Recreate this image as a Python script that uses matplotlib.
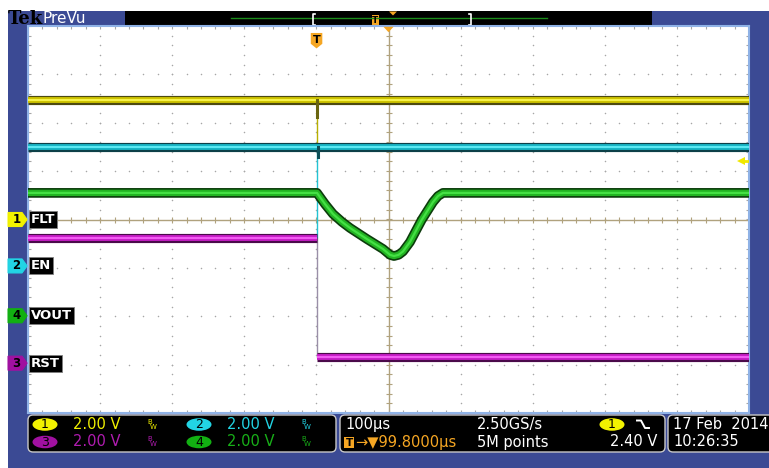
## Captura de osciloscopio Tek (modo PreVu) redibujada con matplotlib.

import numpy as np
import matplotlib.pyplot as plt
import matplotlib.patheffects as pe
from matplotlib.patches import Rectangle, FancyBboxPatch, Polygon, Ellipse

W, H = 769, 468

# escala de la pantalla
us_div = 100.0       # 100us/div
v_div = 2.0          # 2.00 V/div en los cuatro canales
trig_t = -99.8       # posicion del disparo (us)
trig_level = 2.40    # nivel de disparo, canal 1

# canales: nombre, numero y posicion de tierra (divisiones)
ch_names = ["FLT", "EN", "RST", "VOUT"]
ch_numbers = ["1", "2", "3", "4"]
ch_offsets = [0.0, -0.96, -2.97, -1.99]

# canal 1 FLT (V)
t_flt = [-500, 500]
v_flt = [4.92, 4.92]
flt_spike_t = [-98.6, -98.6]
flt_spike_v = [4.92, 4.24]
flt_glitch_t = [-98.6, -98.6]
flt_glitch_v = [4.92, 3.08]

# canal 2 EN
t_en = [-500, 500]
v_en = [4.92, 4.92]
en_spike_t = [-98.0, -98.0]
en_spike_v = [4.92, 4.50]
en_glitch_t = [-99.2, -99.2]
en_glitch_v = [4.92, 1.20]

# canal 3 RST
t_rst_hi = [-500, -99.8]
v_rst_hi = [5.17, 5.17]
t_rst_lo = [-99.8, 500]
v_rst_lo = [0.25, 0.25]

# canal 4 VOUT
t_vout = [-500, -99.2, -88.1, -77.0, -64.5, -53.4, -29.8, -7.6, 2.0, 7.6,
          14.0, 20.1, 29.8, 46.0, 61.7, 68.7, 75.6, 500]
v_vout = [5.08, 5.08, 4.62, 4.21, 3.88, 3.63, 3.17, 2.76, 2.52, 2.47,
          2.52, 2.66, 3.05, 3.96, 4.70, 4.95, 5.08, 5.08]

blue = '#3b4a94'
tan = '#b0a27e'
orange = '#f5a623'
ch_text = ['#f0f000', '#22d4e4', '#b01cb0', '#18b018']
ch_fill = ['#f2f200', '#22d4e4', '#a010a0', '#12b012']


def to_div(v, ch):
    return ch_offsets[ch] + np.asarray(v, dtype=float) / v_div


def trace(ax, t, y, core, center, edge, w):
    ln, = ax.plot(t, y, color=center, lw=w * 0.35, solid_capstyle='butt',
                  solid_joinstyle='round', zorder=5)
    ln.set_path_effects([pe.Stroke(linewidth=w + 2.4, foreground=edge),
                         pe.Stroke(linewidth=w, foreground=core),
                         pe.Normal()])


fig = plt.figure(figsize=(W / 100, H / 100), dpi=100)
fig.patch.set_facecolor('white')

# fondo: marco azul, barra superior, barra inferior
bg = fig.add_axes([0, 0, 1, 1], zorder=0)
bg.set_xlim(0, W)
bg.set_ylim(H, 0)
bg.axis('off')
bg.add_patch(Rectangle((8, 11), W - 8, H - 11, color=blue, lw=0))
bg.add_patch(Rectangle((125, 11), 527, 15, color='black', lw=0))
bg.plot([231, 547], [18.3, 18.3], color='#1a8c1a', lw=1)
for xb, d in [(313, 1), (471, -1)]:
    bg.plot([xb + 2 * d, xb, xb, xb + 2 * d], [13.5, 13.5, 24.5, 24.5], color='white', lw=1.2)
bg.add_patch(Rectangle((372, 15), 7, 11, color=orange, lw=0))
bg.text(375.5, 20.8, "T", color='black', fontsize=6.5, fontweight='bold', ha='center', va='center')
bg.add_patch(Polygon([(389, 11.5), (397, 11.5), (393, 15.5)], color=orange, lw=0))
bg.text(8, 19, "Tek", family='DejaVu Serif', fontweight='bold', fontsize=13,
        color='black', va='center', ha='left')
bg.text(42, 18.5, "PreVu", color='white', fontsize=11, va='center', ha='left')

# cajas de la barra inferior
for x0, wb in [(28, 308), (340, 325), (668, 120)]:
    bg.add_patch(FancyBboxPatch((x0, 415), wb, 37, boxstyle="round,pad=0,rounding_size=5",
                                facecolor='black', edgecolor='#c8c8c8', lw=1))
r1, r2 = 424.5, 442
fs = 10.5
for (xe, ye), num, c in [((45, r1), "1", 0), ((199, r1), "2", 1),
                         ((45, r2), "3", 2), ((199, r2), "4", 3)]:
    bg.add_patch(Ellipse((xe, ye), 25, 12.5, color=ch_fill[c], lw=0))
    bg.text(xe, ye + 0.5, num, color='black', fontsize=9, ha='center', va='center')
    xt = xe + 28
    bg.text(xt, ye, "2.00 V", color=ch_text[c], fontsize=fs, ha='left', va='center')
    bg.text(xt + 74, ye - 3, "B", color=ch_text[c], fontsize=5, ha='left', va='center')
    bg.text(xt + 77, ye + 2.5, "W", color=ch_text[c], fontsize=5, ha='left', va='center')

bg.text(345, r1, "100µs", color='white', fontsize=fs, ha='left', va='center')
bg.add_patch(Rectangle((344, 436.5), 10, 11.5, color=orange, lw=0))
bg.text(349, r2 + 0.5, "T", color='black', fontsize=7.5, fontweight='bold', ha='center', va='center')
bg.text(355, r2, "→▼99.8000µs", color=orange, fontsize=fs, ha='left', va='center')
bg.text(477, r1, "2.50GS/s", color='white', fontsize=fs, ha='left', va='center')
bg.text(477, r2, "5M points", color='white', fontsize=fs, ha='left', va='center')
bg.add_patch(Ellipse((612, r1), 25, 12.5, color=ch_fill[0], lw=0))
bg.text(612, r1 + 0.5, "1", color='black', fontsize=9, ha='center', va='center')
bg.plot([637, 641, 645, 649], [420.5, 420.5, 428, 428], color='white', lw=1.4)
bg.text(657, r2, "%.2f V" % trig_level, color='white', fontsize=fs, ha='right', va='center')
bg.text(673, r1, "17 Feb  2014", color='white', fontsize=fs, ha='left', va='center')
bg.text(673, r2, "10:26:35", color='white', fontsize=fs, ha='left', va='center')

# reticula
ax = fig.add_axes([28 / W, 1 - 413 / H, 721 / W, 387 / H], zorder=1)
ax.set_xlim(-5 * us_div, 5 * us_div)
ax.set_ylim(-4, 4)
ax.set_facecolor('white')
ax.set_xticks([])
ax.set_yticks([])
for s in ax.spines.values():
    s.set_color('#8fb2e6')
    s.set_linewidth(1.5)

minor_x = np.arange(-500, 501, 20)
minor_y = np.arange(-4, 4.01, 0.2)
dot = dict(ls='none', marker='o', ms=1.1, color='#a6a6a6', mew=0, zorder=1)
for xm in range(-400, 401, 100):
    if xm != 0:
        ax.plot(np.full_like(minor_y, xm), minor_y, **dot)
for ym in range(-3, 4):
    if ym != 0:
        ax.plot(minor_x, np.full_like(minor_x, ym, dtype=float), **dot)
ax.axhline(0, color=tan, lw=1, zorder=2)
ax.axvline(0, color=tan, lw=1, zorder=2)
ax.plot(minor_x, np.zeros_like(minor_x), ls='none', marker='|', ms=4, color=tan, mew=0.8, zorder=2)
ax.plot(np.zeros_like(minor_y), minor_y, ls='none', marker='_', ms=4, color=tan, mew=0.8, zorder=2)
for ye in (-4, 4):
    ax.plot(minor_x, np.full_like(minor_x, ye, dtype=float), ls='none', marker='|',
            ms=5, color='#a6a6a6', mew=0.8, zorder=2)
for xe in (-500, 500):
    ax.plot(np.full_like(minor_y, xe), minor_y, ls='none', marker='_',
            ms=5, color='#a6a6a6', mew=0.8, zorder=2)

# trazas finas del flanco
ax.plot(t_rst_hi[-1:] * 2, to_div([v_rst_hi[-1], v_rst_lo[0]], 2), color='#9a8fa8', lw=1, zorder=4)
ax.plot(en_glitch_t, to_div(en_glitch_v, 1), color='#22c4d4', lw=1, zorder=4)
ax.plot(flt_glitch_t, to_div(flt_glitch_v, 0), color='#b8b000', lw=1, zorder=4)

# trazas gruesas
trace(ax, t_flt, to_div(v_flt, 0), '#cfc400', '#f6f24a', '#4d4a10', 4.2)
trace(ax, t_en, to_div(v_en, 1), '#18b6c6', '#5ae8f2', '#0d4048', 4.2)
trace(ax, t_rst_hi, to_div(v_rst_hi, 2), '#c81ec8', '#f25af2', '#4a0a4a', 4.2)
trace(ax, t_rst_lo, to_div(v_rst_lo, 2), '#c81ec8', '#f25af2', '#4a0a4a', 4.2)
trace(ax, t_vout, to_div(v_vout, 3), '#22b422', '#44e044', '#0c3c0c', 4.6)
ax.plot(flt_spike_t, to_div(flt_spike_v, 0), color='#6a6510', lw=2.2, zorder=6)
ax.plot(en_spike_t, to_div(en_spike_v, 1), color='#0d5058', lw=2.2, zorder=6)

# marcas de disparo
xt = ax.get_xaxis_transform()
ax.add_patch(Polygon([(trig_t - 8, 0.982), (trig_t + 8, 0.982), (trig_t + 8, 0.954),
                      (trig_t, 0.942), (trig_t - 8, 0.954)], closed=True,
                     transform=xt, color=orange, lw=0, zorder=6))
ax.text(trig_t, 0.965, "T", transform=xt, color='black', fontsize=8, fontweight='bold',
        ha='center', va='center', zorder=7)
ax.add_patch(Polygon([(-7, 0.998), (7, 0.998), (0, 0.984)], closed=True,
                     transform=xt, color=orange, lw=0, zorder=6))
lvl = to_div(trig_level, 0)
ax.plot([491, 500], [lvl, lvl], color='#f0e800', lw=2, zorder=6)
ax.plot(489, lvl, marker='<', ms=6, color='#f0e800', mew=0, zorder=6)

# marcadores de tierra y etiquetas
yt = ax.get_yaxis_transform()
for c in [0, 1, 3, 2]:
    y0 = ch_offsets[c]
    h = 0.145
    ax.add_patch(Polygon([(-0.0277, y0 + h), (-0.0083, y0 + h), (-0.0012, y0),
                          (-0.0083, y0 - h), (-0.0277, y0 - h)], closed=True,
                         transform=yt, facecolor=ch_fill[c], edgecolor=ch_fill[c],
                         lw=0.8, clip_on=False, zorder=8))
    ax.text(-0.0160, y0, ch_numbers[c], transform=yt, color='black', fontsize=8.5,
            fontweight='bold', ha='center', va='center', clip_on=False, zorder=9)
    ax.text(0.004, y0, ch_names[c], transform=yt, color='white', fontsize=9.5,
            fontweight='bold', ha='left', va='center', zorder=9,
            bbox=dict(facecolor='black', edgecolor='#808080', lw=0.6,
                      boxstyle='square,pad=0.15'))

fname = "out.png"
plt.savefig(fname, dpi=100)
fname
